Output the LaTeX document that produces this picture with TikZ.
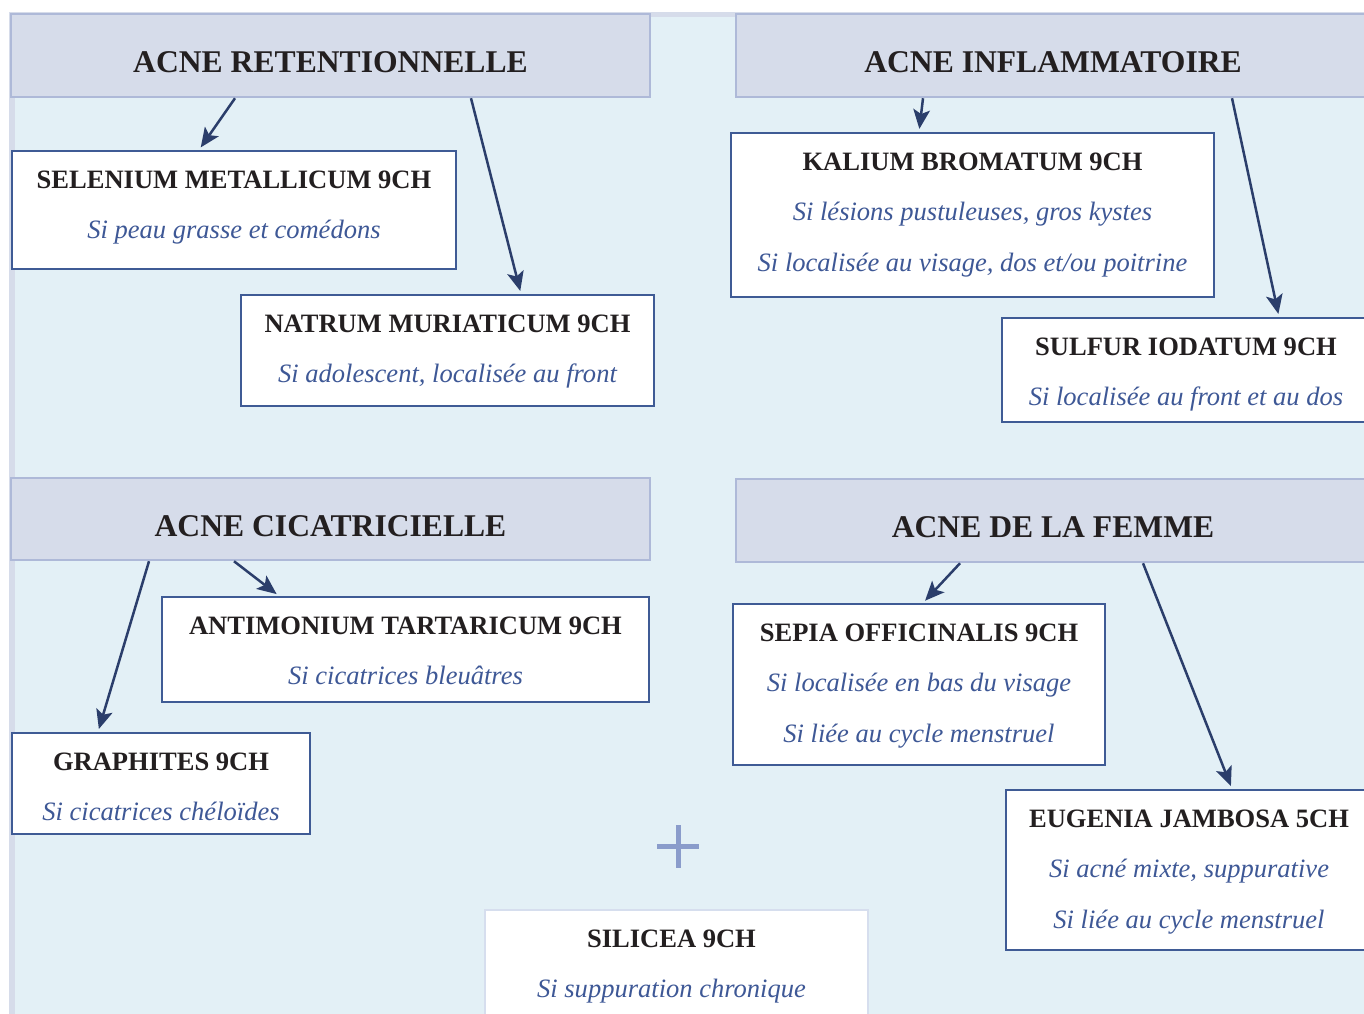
\documentclass[tikz,border=0pt]{standalone}
\usepackage{fontspec}
\setmainfont{Liberation Serif}
\usetikzlibrary{arrows.meta, positioning}

\definecolor{bgblue}{RGB}{227,240,246}
\definecolor{hdrfill}{RGB}{214,220,234}
\definecolor{hdrline}{RGB}{174,185,216}
\definecolor{boxline}{RGB}{63,91,149}
\definecolor{txtblue}{RGB}{62,88,150}
\definecolor{titleblack}{RGB}{35,31,32}
\definecolor{arrowblue}{RGB}{43,62,107}
\definecolor{plusblue}{RGB}{138,156,203}
\definecolor{paleline}{RGB}{214,222,238}

\begin{document}
\begin{tikzpicture}[x=0.02cm, y=-0.02cm,
    header/.style={rectangle, draw=hdrline, fill=hdrfill, line width=0.05cm, text=titleblack,
      font=\fontsize{18}{20}\selectfont\bfseries, text height=19.5pt, text depth=0pt},
    remedy/.style={rectangle, draw=boxline, fill=white, line width=0.045cm},
    txt/.style={inner sep=0pt, align=center, text=titleblack, font=\fontsize{15.1}{28.9}\selectfont},
    arrow/.style={line width=0.05cm, draw=arrowblue, -{Stealth[length=11pt,width=9.5pt,inset=2.5pt]}, shorten >=0.06cm}]
\clip (0,0) rectangle (1364,1013);
% background panel
\fill[hdrfill] (9,12) rectangle (1370,1020);
\fill[bgblue] (15,17) rectangle (1370,1020);

% headers
\node (ret) [header, minimum width=12.78cm, minimum height=1.66cm] at (330.5,55.5) {ACNE RETENTIONNELLE};
\node (inf) [header, minimum width=12.68cm, minimum height=1.66cm] at (1053,55.5) {ACNE INFLAMMATOIRE};
\node (cic) [header, minimum width=12.78cm, minimum height=1.64cm] at (330.5,519) {ACNE CICATRICIELLE};
\node (fem) [header, minimum width=12.68cm, minimum height=1.66cm] at (1053,520.5) {ACNE DE LA FEMME};

% remedies
\node (sel) [remedy, minimum width=8.88cm, minimum height=2.36cm] at (234,210) {};
\node (sel-t) [txt, below=0.405cm of sel.north] {\textbf{SELENIUM METALLICUM 9CH}\\
  {\itshape\color{txtblue}Si peau grasse et comédons}};
\node (nat) [remedy, minimum width=8.26cm, minimum height=2.22cm] at (447.5,350.5) {};
\node (nat-t) [txt, below=0.405cm of nat.north] {\textbf{NATRUM MURIATICUM 9CH}\\
  {\itshape\color{txtblue}Si adolescent, localisée au front}};
\node (kal) [remedy, minimum width=9.66cm, minimum height=3.28cm] at (972.5,215) {};
\node (kal-t) [txt, below=0.405cm of kal.north] {\textbf{KALIUM BROMATUM 9CH}\\
  {\itshape\color{txtblue}Si lésions pustuleuses, gros kystes}\\
  {\itshape\color{txtblue}Si localisée au visage, dos et/ou poitrine}};
\node (sul) [remedy, minimum width=7.36cm, minimum height=2.08cm] at (1186,370) {};
\node (sul-t) [txt, below=0.405cm of sul.north] {\textbf{SULFUR IODATUM 9CH}\\
  {\itshape\color{txtblue}Si localisée au front et au dos}};
\node (ant) [remedy, minimum width=9.74cm, minimum height=2.10cm] at (405.5,649.5) {};
\node (ant-t) [txt, below=0.405cm of ant.north] {\textbf{ANTIMONIUM TARTARICUM 9CH}\\
  {\itshape\color{txtblue}Si cicatrices bleuâtres}};
\node (gra) [remedy, minimum width=5.96cm, minimum height=2.02cm] at (161,783.5) {};
\node (gra-t) [txt, below=0.405cm of gra.north] {\textbf{GRAPHITES 9CH}\\
  {\itshape\color{txtblue}Si cicatrices chéloïdes}};
\node (sep) [remedy, minimum width=7.44cm, minimum height=3.22cm] at (919,684.5) {};
\node (sep-t) [txt, below=0.405cm of sep.north] {\textbf{SEPIA OFFICINALIS 9CH}\\
  {\itshape\color{txtblue}Si localisée en bas du visage}\\
  {\itshape\color{txtblue}Si liée au cycle menstruel}};
\node (eug) [remedy, minimum width=7.32cm, minimum height=3.20cm] at (1189,870) {};
\node (eug-t) [txt, below=0.405cm of eug.north] {\textbf{EUGENIA JAMBOSA 5CH}\\
  {\itshape\color{txtblue}Si acné mixte, suppurative}\\
  {\itshape\color{txtblue}Si liée au cycle menstruel}};
\node (sil) [remedy, draw=paleline, minimum width=7.66cm, minimum height=2.40cm] at (676.5,970) {};
\node (sil-t) [txt, below=0.405cm of sil.north, xshift=-0.1cm] {\textbf{SILICEA 9CH}\\
  {\itshape\color{txtblue}Si suppuration chronique}};

% plus sign
\draw[plusblue, line width=0.1cm] (657,846) -- (699,846) (678,825) -- (678,868);

% arrows
\draw [arrow] (235,0 |- ret.south) -- (199,0 |- sel.north);
\draw [arrow] (471,0 |- ret.south) -- (521,0 |- nat.north);
\draw [arrow] (923,0 |- inf.south) -- (919,0 |- kal.north);
\draw [arrow] (1232,0 |- inf.south) -- (1279,0 |- sul.north);
\draw [arrow] (149,0 |- cic.south) -- (98,0 |- gra.north);
\draw [arrow] (234,0 |- cic.south) -- (279,0 |- ant.north);
\draw [arrow] (960,0 |- fem.south) -- (923,0 |- sep.north);
\draw [arrow] (1143,0 |- fem.south) -- (1232,0 |- eug.north);
\end{tikzpicture}
\end{document}
